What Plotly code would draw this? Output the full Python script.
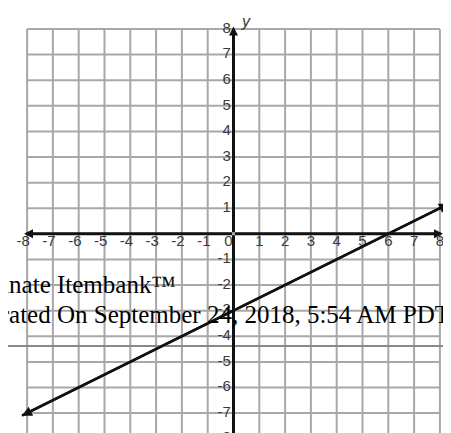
import plotly.graph_objects as go

# grid / tick values on both axes
TICKS = [-8, -7, -6, -5, -4, -3, -2, -1, 0, 1, 2, 3, 4, 5, 6, 7, 8]
X_LABELS = ["-8", "-7", "-6", "-5", "-4", "-3", "-2", "-1", "0",
            "1", "2", "3", "4", "5", "6", "7", "8"]
Y_TICKS = [-8, -7, -6, -5, -4, -3, -2, -1, 1, 2, 3, 4, 5, 6, 7, 8]

# graphed line y = x/2 - 3, with arrow tips
LINE_X = [-8.2, 8.35]
LINE_Y = [-7.1, 1.175]

FOOTER_1 = "Illuminate Itembank™"
FOOTER_2 = "Generated On September 24, 2018, 5:54 AM PDT"

GRID = "#a8a8a8"
LABEL = "#3a3a3a"

fig = go.Figure()

# bounded grid (only between -8 and 8)
gx, gy = [], []
for t in TICKS:
    gx += [t, t, None]
    gy += [TICKS[0], TICKS[-1], None]
    gx += [TICKS[0], TICKS[-1], None]
    gy += [t, t, None]
fig.add_trace(go.Scatter(x=gx, y=gy, mode="lines", hoverinfo="skip",
                         line=dict(color=GRID, width=2), showlegend=False))

# tick labels sitting on the axes
fig.add_trace(go.Scatter(
    x=[t - 0.15 if t < 0 else (t - 0.2 if t == 0 else t) for t in TICKS],
    y=[-0.02] * len(TICKS), mode="text", text=X_LABELS,
    textposition="bottom center", hoverinfo="skip", showlegend=False,
    textfont=dict(family="Liberation Sans", size=15, color=LABEL)))
fig.add_trace(go.Scatter(
    x=[-0.1] * len(Y_TICKS), y=Y_TICKS, mode="text",
    text=[str(t) for t in Y_TICKS], textposition="middle left",
    hoverinfo="skip", showlegend=False,
    textfont=dict(family="Liberation Sans", size=15, color=LABEL)))

# the line
fig.add_trace(go.Scatter(x=LINE_X, y=LINE_Y, mode="lines", hoverinfo="skip",
                         line=dict(color="#111111", width=2.5),
                         showlegend=False))

arrows = []
# axes with arrowheads at both ends
for tx, ty in [(8.12, 0), (-8.12, 0), (0, 8.1), (0, -8.4)]:
    arrows.append(dict(x=tx, y=ty, ax=0, ay=0, xref="x", yref="y",
                       axref="x", ayref="y", text="", showarrow=True,
                       arrowhead=2, arrowsize=0.6, arrowwidth=3,
                       arrowcolor="#111111", standoff=0))
# arrowheads on the graphed line
mx = (LINE_X[0] + LINE_X[1]) / 2
my = (LINE_Y[0] + LINE_Y[1]) / 2
for tx, ty in zip(LINE_X, LINE_Y):
    arrows.append(dict(x=tx, y=ty, ax=mx, ay=my, xref="x", yref="y",
                       axref="x", ayref="y", text="", showarrow=True,
                       arrowhead=2, arrowsize=0.8, arrowwidth=2.5,
                       arrowcolor="#111111", standoff=0))

# axis names
arrows.append(dict(x=8.3, y=0.1, xref="x", yref="y", text="x",
                   showarrow=False, xanchor="left",
                   font=dict(family="Liberation Sans", size=16, color=LABEL,
                             style="italic")))
arrows.append(dict(x=0.2, y=8.3, xref="x", yref="y", text="y",
                   showarrow=False, xanchor="left",
                   font=dict(family="Liberation Sans", size=16, color=LABEL,
                             style="italic")))

# footer text laid over the chart (cut off at the left edge)
for txt, yp in [(FOOTER_1, 0.362), (FOOTER_2, 0.292)]:
    arrows.append(dict(x=-0.137, y=yp, xref="paper", yref="paper", text=txt,
                       showarrow=False, xanchor="left", yanchor="middle",
                       font=dict(family="Liberation Serif", size=25,
                                 color="#000000")))

fig.add_shape(type="line", xref="paper", yref="paper", x0=0, x1=1,
              y0=0.2194, y1=0.2194, line=dict(color="#888888", width=2))

fig.update_layout(
    annotations=arrows,
    width=451, height=433, autosize=False,
    margin=dict(l=0, r=0, t=0, b=0),
    paper_bgcolor="white", plot_bgcolor="white",
)
fig.update_xaxes(range=[-8.74, 8.74], visible=False)
fig.update_yaxes(range=[-8.09, 8.82], visible=False)

fig.write_html("out.html", config={"displayModeBar": False})
